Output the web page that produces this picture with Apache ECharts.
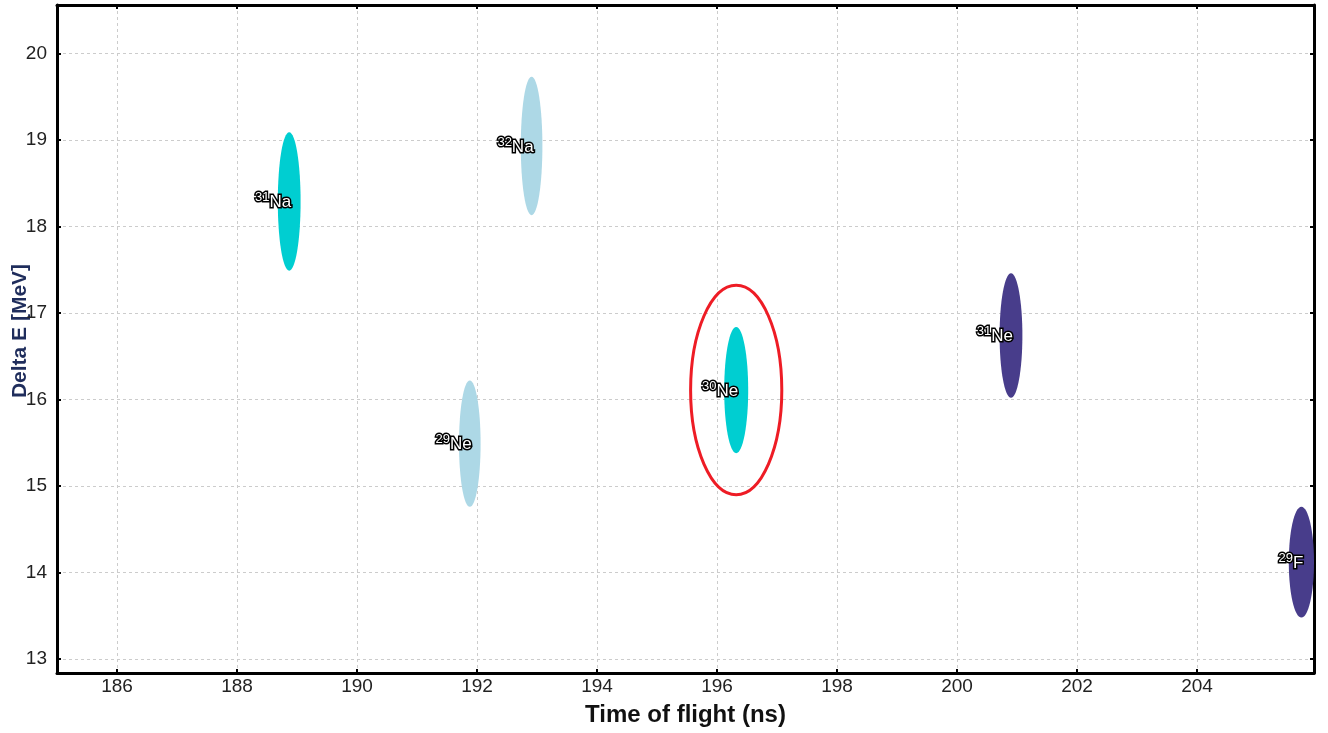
<!DOCTYPE html>
<html>
<head>
<meta charset="utf-8">
<script src="https://cdn.jsdelivr.net/npm/echarts@6/dist/echarts.min.js"></script>
<style>
html,body{margin:0;padding:0;background:#fff;}
#chart{width:1328px;height:733px;}
</style>
</head>
<body>
<div id="chart"></div>
<script>
// ---- data ----
const massNumbers = ['31', '32', '29', '30', '31', '29'];
const elements = ['Na', 'Na', 'Ne', 'Ne', 'Ne', 'F'];
const timeOfFlight = [188.87, 192.91, 191.88, 196.32, 200.90, 205.74];   // ns
const deltaE = [18.29, 18.93, 15.49, 16.11, 16.74, 14.12];              // MeV
const halfWidthNs = [0.19, 0.18, 0.18, 0.20, 0.19, 0.21];
const halfHeightMeV = [0.80, 0.80, 0.73, 0.73, 0.72, 0.64];
const ringCenter = [196.32, 16.11];
const ringHalf = [0.76, 1.21];
const xRange = [185, 205.95];
const yRange = [12.84, 20.56];

// ---- styles ----
const blobColors = ['#00CED1', '#ADD8E6', '#ADD8E6', '#00CED1', '#483D8B', '#483D8B'];

const blobData = timeOfFlight.map((t, i) => [t, deltaE[i], halfWidthNs[i], halfHeightMeV[i]]);

const chart = echarts.init(document.getElementById('chart'), null, {renderer: 'canvas'});
const FONT = "'Liberation Sans', Arial, sans-serif";

const frameLine = {show: true, lineStyle: {color: '#000', width: 3}};
const tickIn = {show: true, inside: true, length: 4, lineStyle: {color: '#000', width: 2}};
const gridLine = {show: true, lineStyle: {color: '#cccccc', type: [3, 3], width: 1}};

chart.setOption({
  animation: false,
  backgroundColor: '#fff',
  grid: {left: 57, right: 14, top: 5, bottom: 60, containLabel: false, outerBoundsMode: 'none'},
  xAxis: [{
    type: 'value', position: 'bottom', min: xRange[0], max: xRange[1],
    splitNumber: 10, minInterval: 2, maxInterval: 2,
    axisLine: frameLine, axisTick: tickIn, splitLine: gridLine,
    axisLabel: {show: true, fontSize: 19, color: '#222', fontFamily: FONT, margin: 4,
      showMinLabel: false, showMaxLabel: false},
    name: 'Time of flight (ns)', nameLocation: 'middle', nameGap: 30, nameMoveOverlap: false,
    nameTextStyle: {fontSize: 24, fontWeight: 'bold', color: '#111', fontFamily: FONT}
  }, {
    type: 'value', position: 'top', min: xRange[0], max: xRange[1],
    splitNumber: 10, minInterval: 2, maxInterval: 2,
    axisLine: frameLine, axisTick: tickIn, splitLine: {show: false},
    axisLabel: {show: false}
  }],
  yAxis: [{
    type: 'value', position: 'left', min: yRange[0], max: yRange[1],
    splitNumber: 8, minInterval: 1, maxInterval: 1,
    axisLine: frameLine, axisTick: tickIn, splitLine: gridLine,
    axisLabel: {show: true, fontSize: 19, color: '#222', fontFamily: FONT, margin: 10,
      showMinLabel: false, showMaxLabel: false},
    name: 'Delta E [MeV]', nameLocation: 'middle', nameGap: 26, nameMoveOverlap: false,
    nameTextStyle: {fontSize: 21, fontWeight: 'bold', color: '#1f2d5c', fontFamily: FONT,
      padding: [0, 0, 0, 16]}
  }, {
    type: 'value', position: 'right', min: yRange[0], max: yRange[1],
    splitNumber: 8, minInterval: 1, maxInterval: 1,
    axisLine: frameLine, axisTick: tickIn, splitLine: {show: false},
    axisLabel: {show: false}
  }],
  series: [{
    type: 'custom',
    name: 'isotopes',
    xAxisIndex: 0, yAxisIndex: 0,
    clip: true,
    data: blobData,
    z: 3,
    renderItem: function (params, api) {
      const i = params.dataIndex;
      const c = api.coord([api.value(0), api.value(1)]);
      const s = api.size([api.value(2), api.value(3)]);
      return {
        type: 'group',
        children: [{
          type: 'ellipse',
          shape: {cx: c[0], cy: c[1], rx: s[0], ry: s[1]},
          style: {fill: blobColors[i]}
        }, {
          type: 'text',
          z2: 10,
          style: {
            text: '{sup|' + massNumbers[i] + '}{el|' + elements[i] + '}',
            x: c[0] + 2, y: c[1] + 1,
            align: 'right', verticalAlign: 'middle',
            fill: '#fff', stroke: '#000', lineWidth: 3,
            rich: {
              sup: {fontSize: 13, fontFamily: FONT, fill: '#fff', stroke: '#000', lineWidth: 3, padding: [0, 0, 10, 0]},
              el: {fontSize: 17, fontFamily: FONT, fill: '#fff', stroke: '#000', lineWidth: 3}
            }
          }
        }]
      };
    }
  }, {
    type: 'custom',
    name: 'highlight',
    xAxisIndex: 0, yAxisIndex: 0,
    data: [[ringCenter[0], ringCenter[1], ringHalf[0], ringHalf[1]]],
    z: 4,
    renderItem: function (params, api) {
      const c = api.coord([api.value(0), api.value(1)]);
      const s = api.size([api.value(2), api.value(3)]);
      return {
        type: 'ellipse',
        shape: {cx: c[0], cy: c[1], rx: s[0], ry: s[1]},
        style: {fill: 'none', stroke: '#EE1C25', lineWidth: 3}
      };
    }
  }]
});
</script>
</body>
</html>
